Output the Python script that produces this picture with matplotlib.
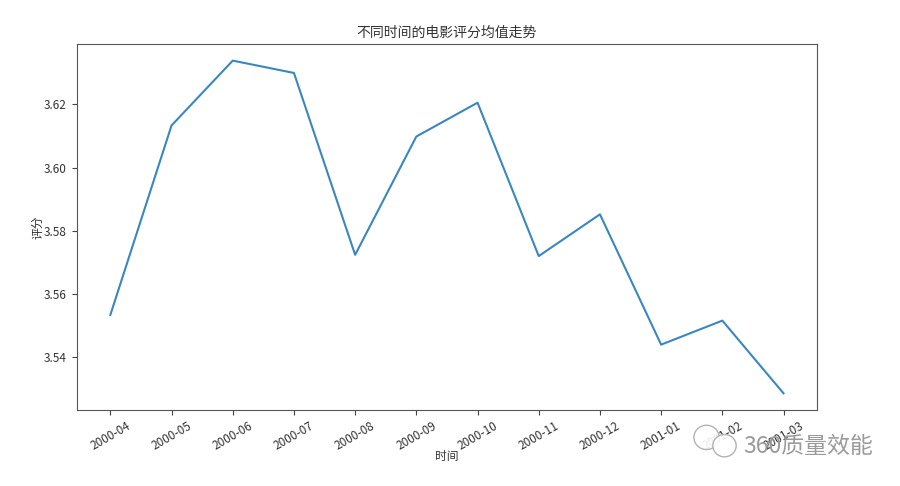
import matplotlib
matplotlib.use("Agg")
import matplotlib.pyplot as plt
from matplotlib.patches import Ellipse

plt.rcParams['font.family'] = ['Noto Sans CJK SC', 'DejaVu Sans']
plt.rcParams['axes.unicode_minus'] = False

months = ["2000-04", "2000-05", "2000-06", "2000-07", "2000-08", "2000-09",
          "2000-10", "2000-11", "2000-12", "2001-01", "2001-02", "2001-03"]
ratings = [3.5534, 3.6133, 3.6338, 3.6299, 3.5724, 3.6098,
           3.6205, 3.5720, 3.5852, 3.5440, 3.5516, 3.5286]

fig = plt.figure(figsize=(9, 4.86), dpi=100)
ax = fig.add_axes([0.0852, 0.1564, 0.8228, 0.7531])
ax.plot(months, ratings, color="#3a87c0", lw=1.5)
ax.set_title("不同时间的电影评分均值走势", fontsize=10, color="#333333", pad=5)
ax.set_xlabel("时间", fontsize=8.5, color="#333333", labelpad=-2)
ax.set_ylabel("评分", fontsize=8.5, color="#333333", labelpad=0)
ax.set_yticks([3.54, 3.56, 3.58, 3.60, 3.62])
ax.tick_params(labelsize=8.5, labelcolor="#333333", color="#444444")
for lbl in ax.get_xticklabels():
    lbl.set_rotation(30)
for s in ax.spines.values():
    s.set_color("#555555")

# watermark
for e in (Ellipse((0.785, 0.1), 0.028, 0.05), Ellipse((0.805, 0.083), 0.026, 0.046)):
    e.set_transform(fig.transFigure)
    e.set_facecolor("white")
    e.set_edgecolor("#aaaaaa")
    e.set_linewidth(1)
    e.set_alpha(0.9)
    fig.add_artist(e)
fig.text(0.826, 0.082, "360质量效能", fontsize=16.5, color="#9a9a9a", va="center")

fig.savefig("out.png", dpi=100)
